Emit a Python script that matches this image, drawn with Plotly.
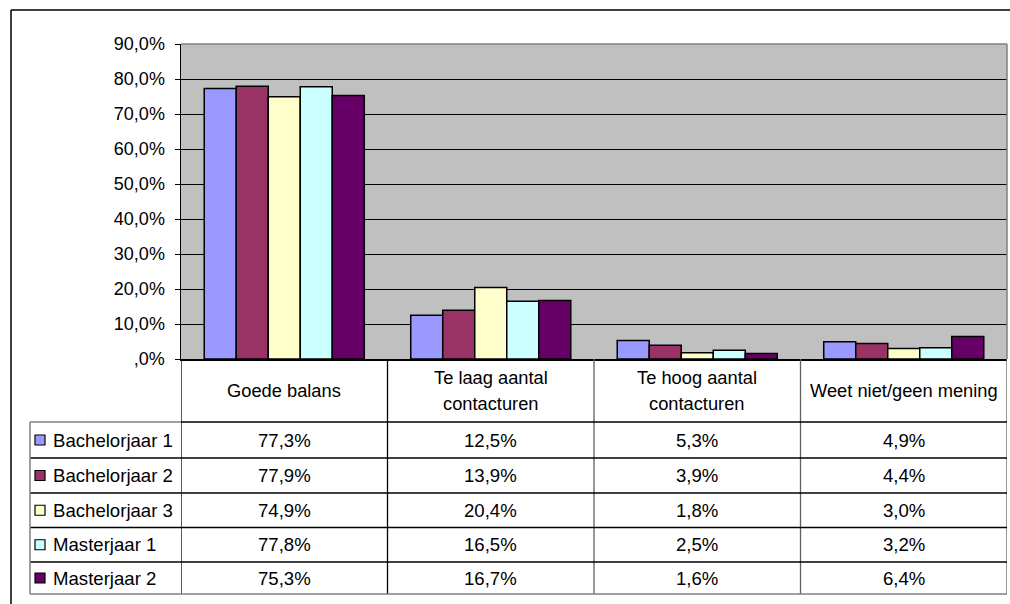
import plotly.graph_objects as go

categories = ["Goede balans", "Te laag aantal<br>contacturen", "Te hoog aantal<br>contacturen", "Weet niet/geen mening"]
series_names = ["Bachelorjaar 1", "Bachelorjaar 2", "Bachelorjaar 3", "Masterjaar 1", "Masterjaar 2"]
bachelor1 = [77.3, 12.5, 5.3, 4.9]
bachelor2 = [77.9, 13.9, 3.9, 4.4]
bachelor3 = [74.9, 20.4, 1.8, 3.0]
master1 = [77.8, 16.5, 2.5, 3.2]
master2 = [75.3, 16.7, 1.6, 6.4]
series_values = [bachelor1, bachelor2, bachelor3, master1, master2]
colors = ["#9999FF", "#993366", "#FFFFCC", "#CCFFFF", "#660066"]
y_tickvals = [0, 10, 20, 30, 40, 50, 60, 70, 80, 90]
y_ticktext = [",0%", "10,0%", "20,0%", "30,0%", "40,0%", "50,0%", "60,0%", "70,0%", "80,0%", "90,0%"]

W, H = 1010, 604
PLOT_L, PLOT_R, PLOT_T, PLOT_B = 181, 1007, 44, 359  # pixel positions of the plot area
L, T = PLOT_L, PLOT_T
R = W - PLOT_R
B = H - PLOT_B
PW, PH = W - L - R, H - T - B
FONT = "Liberation Sans, Arial, sans-serif"
FS = 18.6


def px(x):
    return (x - L) / PW


def py(y):
    return (H - B - y) / PH


fig = go.Figure()
xs = list(range(len(categories)))
for name, vals, col in zip(series_names, series_values, colors):
    fig.add_trace(go.Bar(x=xs, y=vals, name=name, marker=dict(color=col, line=dict(color="black", width=1.5)),
                         showlegend=False, hoverinfo="skip"))

shapes = []
annotations = []


def hline(x0, x1, y, color="black", width=1):
    shapes.append(dict(type="line", xref="paper", yref="paper", x0=px(x0), x1=px(x1), y0=py(y), y1=py(y),
                       line=dict(color=color, width=width)))


def vline(x, y0, y1, color="black", width=1):
    shapes.append(dict(type="line", xref="paper", yref="paper", x0=px(x), x1=px(x), y0=py(y0), y1=py(y1),
                       line=dict(color=color, width=width)))


# outer frame
hline(11, 1012, 10, "black", 1.5)
vline(11, 10, 606, "black", 1.5)
# plot area border top/right
hline(PLOT_L, PLOT_R, PLOT_T, "#808080", 1.5)
vline(PLOT_R, PLOT_T, PLOT_B, "#808080", 1.5)

# table
row_lines = [422, 458, 493, 527.5, 562, 594]
col_edges_data = [-0.5, 0.5, 1.5, 2.5, 3.5]
for i, cx in enumerate(col_edges_data):
    shapes.append(dict(type="line", xref="x", yref="paper", x0=cx, x1=cx, y0=py(PLOT_B), y1=py(594),
                       line=dict(color="black" if i in (0, 1) else "#606060", width=1.3)))
hline(30, PLOT_L, row_lines[0], "#808080", 1.3)
hline(PLOT_L, PLOT_R, row_lines[0], "black", 1.3)
for y in row_lines[1:-1]:
    hline(30, PLOT_R, y, "black", 1.3)
hline(30, PLOT_R, row_lines[-1], "#808080", 1.5)
vline(30, row_lines[0], row_lines[-1], "#808080", 1.5)

# header labels (each line placed separately for Excel-like line spacing)
header_mid = (PLOT_B + row_lines[0]) / 2
LINE_GAP = 26.5
for i, cat in enumerate(categories):
    lines = cat.split("<br>")
    n = len(lines)
    for k, line in enumerate(lines):
        yc = header_mid + (k - (n - 1) / 2) * LINE_GAP
        annotations.append(dict(x=i, y=py(yc), xref="x", yref="paper", text=line,
                                showarrow=False, font=dict(family=FONT, size=18.3, color="black"),
                                xanchor="center", yanchor="middle", align="center"))

# rows
for r, (name, vals, col) in enumerate(zip(series_names, series_values, colors)):
    yc = (row_lines[r] + row_lines[r + 1]) / 2
    shapes.append(dict(type="rect", xref="paper", yref="paper", x0=px(35), x1=px(45), y0=py(yc - 5), y1=py(yc + 5),
                       fillcolor=col, line=dict(color="black", width=1.2)))
    annotations.append(dict(x=px(51), y=py(yc), xref="paper", yref="paper", text=name, showarrow=False,
                            font=dict(family=FONT, size=FS, color="black"), xanchor="left", yanchor="middle"))
    for i, v in enumerate(vals):
        annotations.append(dict(x=i, y=py(yc), xref="x", yref="paper",
                                text=f"{v:.1f}%".replace(".", ","), showarrow=False,
                                font=dict(family=FONT, size=FS, color="black"), xanchor="center", yanchor="middle"))

fig.update_layout(
    width=W, height=H,
    margin=dict(l=L, r=R, t=T, b=B, pad=0),
    paper_bgcolor="white",
    plot_bgcolor="#C0C0C0",
    barmode="group",
    bargap=0.225,
    bargroupgap=0,
    shapes=shapes,
    annotations=annotations,
    hovermode=False,
    font=dict(family=FONT, size=FS, color="black"),
    xaxis=dict(range=[-0.5, 3.5], showticklabels=False, showgrid=False, zeroline=False,
               showline=True, linecolor="black", linewidth=1.5, ticks=""),
    yaxis=dict(range=[0, 90], tickvals=y_tickvals, ticktext=y_ticktext, showgrid=True, gridcolor="black",
               gridwidth=1, zeroline=False, showline=True, linecolor="black", linewidth=1.5,
               ticks="outside", ticklen=5, tickcolor="black", tickwidth=1, ticklabelstandoff=6,
               tickfont=dict(family=FONT, size=18, color="black")),
)

page_css = ("document.documentElement.style.overflow='hidden';"
            "document.body.style.margin='0';document.body.style.overflow='hidden';")
fig.write_html("out.html", post_script=page_css, config={"displayModeBar": False, "staticPlot": True})
